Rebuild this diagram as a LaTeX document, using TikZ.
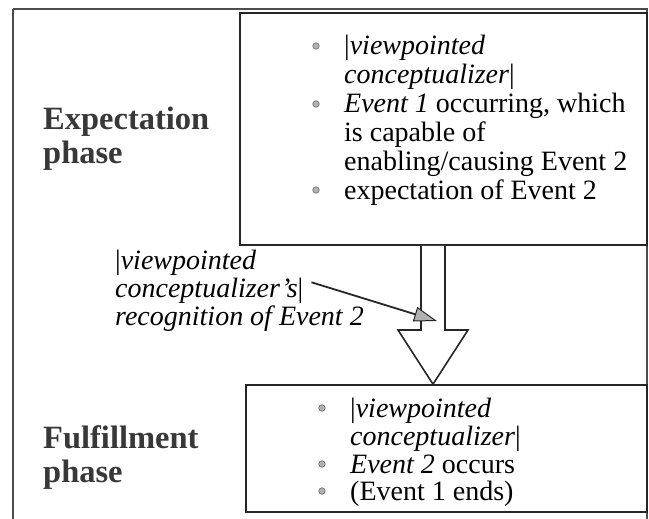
\documentclass[tikz,border=0pt]{standalone}
\usepackage{fontspec}
\setmainfont{Liberation Serif}
\usetikzlibrary{arrows.meta}
\begin{document}
\begin{tikzpicture}[x=1pt,y=-1pt,
  frame/.style={draw=black!70,line width=1.6pt},
  box/.style={draw=black!85,line width=1.6pt,fill=white,inner sep=0pt},
  phase/.style={anchor=base west,inner sep=0pt,text=black!78,font=\fontsize{32.5}{35}\selectfont\bfseries},
  item/.style={anchor=base west,inner sep=0pt,font=\fontsize{28}{30}\selectfont},
  dot/.style={circle,inner sep=0pt,minimum size=6.5pt,fill=gray!60,draw=black!60,line width=0.6pt}]
\useasboundingbox (0,0) rectangle (649,519);
% outer frame, running off the bottom edge
\draw[frame] (13,9) -- (647,9) -- (647,530);
\draw[frame] (13,9) -- (13,530);

% the two phase boxes
\node[box,minimum width=407pt,minimum height=232pt] (up) at (443.5,129) {};
\node[box,minimum width=401pt,minimum height=127pt] (lo) at (446.5,448.5) {};

% phase titles
\node[phase] (exp1) at (43,130) {Expectation};
\node[phase] (exp2) at (43,164) {phase};
\node[phase] (ful1) at (43,448) {Fulfillment};
\node[phase] (ful2) at (43,482) {phase};

% upper box contents
\node[dot] (ua) at (316,46) {};
\node[item] (u1) at (344,55) {|\textit{viewpointed}};
\node[item] (u2) at (344,84) {\textit{conceptualizer}|};
\node[dot] (ub) at (316,104) {};
\node[item] (u3) at (344,113) {\textit{Event 1} occurring, which};
\node[item] (u4) at (344,142) {is capable of};
\node[item] (u5) at (344,170.5) {enabling/causing Event 2};
\node[dot] (uc) at (316,190) {};
\node[item] (u6) at (344,199) {expectation of Event 2};

% lower box contents
\node[dot] (la) at (322,408) {};
\node[item] (l1) at (350,417) {|\textit{viewpointed}};
\node[item] (l2) at (350,445) {\textit{conceptualizer}|};
\node[dot] (lb) at (322,464) {};
\node[item] (l3) at (350,473) {\textit{Event 2} occurs};
\node[dot] (lc) at (322,491) {};
\node[item] (l4) at (350,500) {(Event 1 ends)};

% hollow block arrow from the upper box to the lower box
\draw[box,line join=miter] (up.south -| 421,0) -- (421,330) -- (398,330) -- (lo.north -| 433,0)
  -- (468,330) -- (445,330) -- (up.south -| 445,0);

% recognition label and its pointer
\node[item] (r1) at (115,269) {|\textit{viewpointed}};
\node[item] (r2) at (115,297) {\textit{conceptualizer’s}|};
\node[item] (r3) at (115,325) {\textit{recognition of Event 2}};
\coordinate (ptip) at (437,321);
\draw[line width=1.8pt,black!85,-{Triangle[length=23pt,width=15pt,fill=gray!60,line width=1pt]}]
  (r2.east) ++(8,-8) -- (ptip);
\end{tikzpicture}
\end{document}
